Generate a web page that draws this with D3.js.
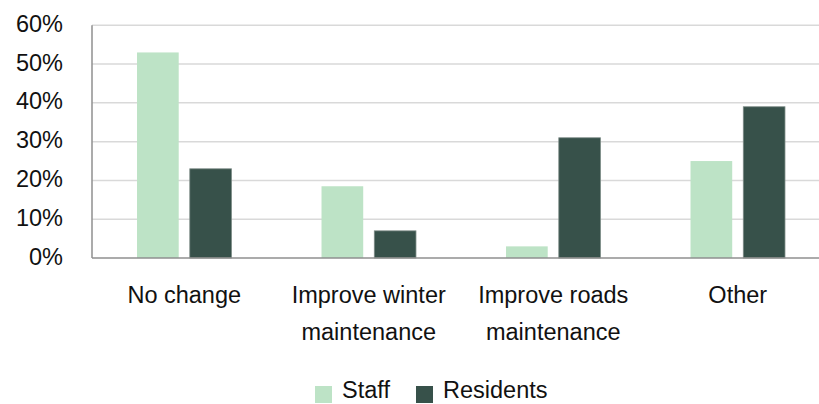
<!DOCTYPE html>
<html>
<head>
<meta charset="utf-8">
<script src="https://cdn.jsdelivr.net/npm/d3@7"></script>
<style>
  body { margin: 0; background: #fff; }
  svg { display: block; font-family: "Liberation Sans", Arial, sans-serif; }
</style>
</head>
<body>
<svg width="819" height="404"></svg>
<script>
// data
var categories = [["No change"], ["Improve winter", "maintenance"], ["Improve roads", "maintenance"], ["Other"]];
var series = ["Staff", "Residents"];
var staff = [0.53, 0.185, 0.03, 0.25];
var residents = [0.23, 0.07, 0.31, 0.39];
var yTicks = [0, 0.1, 0.2, 0.3, 0.4, 0.5, 0.6];
var colors = ["#bde3c6", "#37514a"];

var svg = d3.select("svg"),
    width = +svg.attr("width"),
    height = +svg.attr("height");

// plot box (right edge runs past the window, as in the reference)
var mLeft = 92, mRight = 830, mTop = 25.3, mBottom = 258;

var x0 = d3.scaleBand()
    .domain(d3.range(categories.length))
    .range([mLeft, mRight]);

var bw = x0.bandwidth();
var x1 = d3.scaleBand()
    .domain(series)
    .range([bw * 0.244, bw * 0.756])
    .paddingInner(0.21);

var y = d3.scaleLinear()
    .domain([0, 0.6])
    .range([mBottom, mTop]);

var color = d3.scaleOrdinal().domain(series).range(colors);

// gridlines
svg.append("g")
    .selectAll("line")
    .data(yTicks.slice(1))
    .enter().append("line")
    .attr("x1", mLeft)
    .attr("x2", width)
    .attr("y1", function(d) { return y(d); })
    .attr("y2", function(d) { return y(d); })
    .attr("stroke", "#d9d9d9")
    .attr("stroke-width", 1.5);

// y labels
svg.append("g")
    .selectAll("text")
    .data(yTicks)
    .enter().append("text")
    .attr("x", 63)
    .attr("y", function(d) { return y(d) + 6.5; })
    .attr("text-anchor", "end")
    .attr("font-size", 23.5)
    .attr("fill", "#111")
    .text(d3.format(".0%"));

// bars
var rows = categories.map(function(c, i) {
    return { i: i, values: [{ s: "Staff", v: staff[i] }, { s: "Residents", v: residents[i] }] };
});

var group = svg.append("g")
    .selectAll("g")
    .data(rows)
    .enter().append("g")
    .attr("transform", function(d) { return "translate(" + x0(d.i) + ",0)"; });

group.selectAll("rect")
    .data(function(d) { return d.values; })
    .enter().append("rect")
    .attr("x", function(d) { return x1(d.s); })
    .attr("width", x1.bandwidth())
    .attr("y", function(d) { return y(d.v); })
    .attr("height", function(d) { return y(0) - y(d.v); })
    .attr("fill", function(d) { return color(d.s); })
    .attr("stroke", function(d) { return d.s == "Residents" ? "#7d8c87" : "none"; })
    .attr("stroke-width", 0.8);

// axis lines
svg.append("line")
    .attr("x1", mLeft).attr("x2", mLeft)
    .attr("y1", mTop).attr("y2", mBottom)
    .attr("stroke", "#8f8f8f").attr("stroke-width", 1.5);
svg.append("line")
    .attr("x1", mLeft).attr("x2", width)
    .attr("y1", mBottom).attr("y2", mBottom)
    .attr("stroke", "#8f8f8f").attr("stroke-width", 1.5);

// category labels
var labels = svg.append("g")
    .selectAll("text")
    .data(categories)
    .enter().append("text")
    .attr("x", function(d, i) { return x0(i) + bw / 2; })
    .attr("y", 303)
    .attr("text-anchor", "middle")
    .attr("font-size", 23.5)
    .attr("fill", "#111");

labels.selectAll("tspan")
    .data(function(d) { return d; })
    .enter().append("tspan")
    .attr("x", function() { return d3.select(this.parentNode).attr("x"); })
    .attr("dy", function(d, i) { return i ? 37 : 0; })
    .text(function(d) { return d; });

// legend
var legendX = [315, 416];
var legend = svg.append("g")
    .selectAll("g")
    .data(series)
    .enter().append("g")
    .attr("transform", function(d, i) { return "translate(" + legendX[i] + ",0)"; });

legend.append("rect")
    .attr("x", 0)
    .attr("y", 386)
    .attr("width", 17)
    .attr("height", 17)
    .attr("fill", function(d) { return color(d); });

legend.append("text")
    .attr("x", 27)
    .attr("y", 398)
    .attr("font-size", 23.5)
    .attr("fill", "#111")
    .text(function(d) { return d; });
</script>
</body>
</html>
